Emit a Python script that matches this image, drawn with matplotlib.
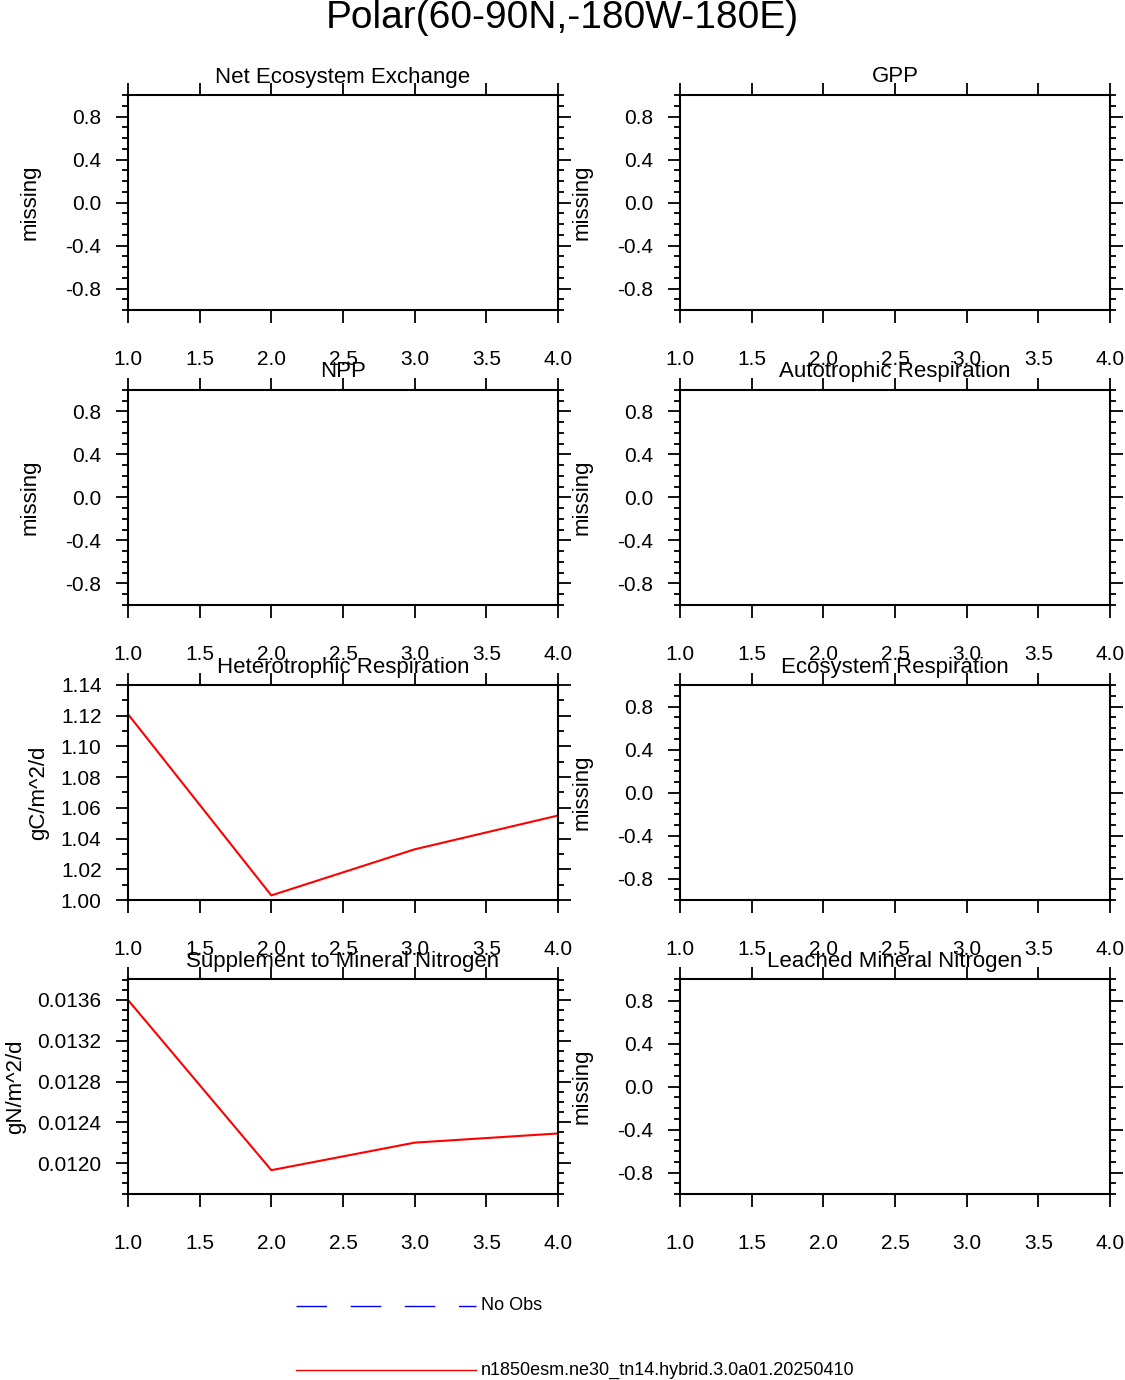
import matplotlib
matplotlib.use("Agg")
import matplotlib.pyplot as plt
from matplotlib.ticker import MultipleLocator, FormatStrFormatter, NullLocator
from matplotlib.lines import Line2D

titles = ["Net Ecosystem Exchange", "GPP", "NPP", "Autotrophic Respiration",
          "Heterotrophic Respiration", "Ecosystem Respiration",
          "Supplement to Mineral Nitrogen", "Leached Mineral Nitrogen"]
x = [1, 2, 3, 4]
hr = [1.121, 1.003, 1.033, 1.055]
sminn = [0.01360, 0.01193, 0.01220, 0.01229]
W, H = 1125, 1380
fig = plt.figure(figsize=(11.25, 13.8), dpi=100)
plt.rcParams['font.family'] = ['Liberation Sans', 'DejaVu Sans']
fig.text(0.5, 1 - 18 / H, "Polar(60-90N,-180W-180E)", ha='center', va='center', fontsize=28)

lefts = [128, 680]
tops = [95, 390, 685, 979]
for i, t in enumerate(titles):
    r, c = divmod(i, 2)
    l = lefts[c]; top = tops[r]
    ax = fig.add_axes([l / W, 1 - (top + 215) / H, 430 / W, 215 / H])
    ax.set_xlim(1, 4)
    ax.xaxis.set_major_locator(MultipleLocator(0.5))
    ax.xaxis.set_minor_locator(NullLocator())
    ax.xaxis.set_major_formatter(FormatStrFormatter('%.1f'))
    if i == 4:
        ax.plot(x, hr, color='red', lw=1.5)
        ax.set_ylim(1.0, 1.14)
        ax.yaxis.set_major_locator(MultipleLocator(0.02))
        ax.yaxis.set_minor_locator(MultipleLocator(0.01))
        ax.yaxis.set_major_formatter(FormatStrFormatter('%.2f'))
        ax.set_ylabel("gC/m^2/d", fontsize=16, labelpad=8)
    elif i == 6:
        ax.plot(x, sminn, color='red', lw=1.5)
        ax.set_ylim(0.011696, 0.013806)
        ax.yaxis.set_major_locator(MultipleLocator(0.0004))
        ax.yaxis.set_minor_locator(MultipleLocator(0.0001))
        ax.yaxis.set_major_formatter(FormatStrFormatter('%.4f'))
        ax.set_ylabel("gN/m^2/d", fontsize=16, labelpad=8)
    else:
        ax.set_ylim(-1, 1)
        ax.set_yticks([-0.8, -0.4, 0.0, 0.4, 0.8])
        ax.yaxis.set_minor_locator(MultipleLocator(0.1))
        ax.yaxis.set_major_formatter(FormatStrFormatter('%.1f'))
        ax.set_ylabel("missing", fontsize=16, labelpad=18)
    ax.set_title(t, fontsize=16, pad=9)
    ax.tick_params(which='both', direction='out', top=True, right=True, labelsize=15, width=1.3)
    ax.tick_params(which='major', length=9)
    ax.tick_params(axis='x', which='major', pad=20)
    ax.tick_params(axis='y', which='major', pad=10)
    ax.tick_params(which='minor', length=4)
    for s in ax.spines.values():
        s.set_linewidth(1.5)

fig.add_artist(Line2D([296 / W, 476 / W], [1 - 1306 / H] * 2, color='blue', lw=1, ls=(0, (22, 17))))
fig.text(481 / W, 1 - 1306 / H, "No Obs", va='center', fontsize=13)
fig.add_artist(Line2D([296 / W, 476 / W], [1 - 1370 / H] * 2, color='red', lw=1))
fig.text(481 / W, 1 - 1370 / H, "n1850esm.ne30_tn14.hybrid.3.0a01.20250410", va='center', fontsize=13)
fig.savefig("out.png", dpi=100)
